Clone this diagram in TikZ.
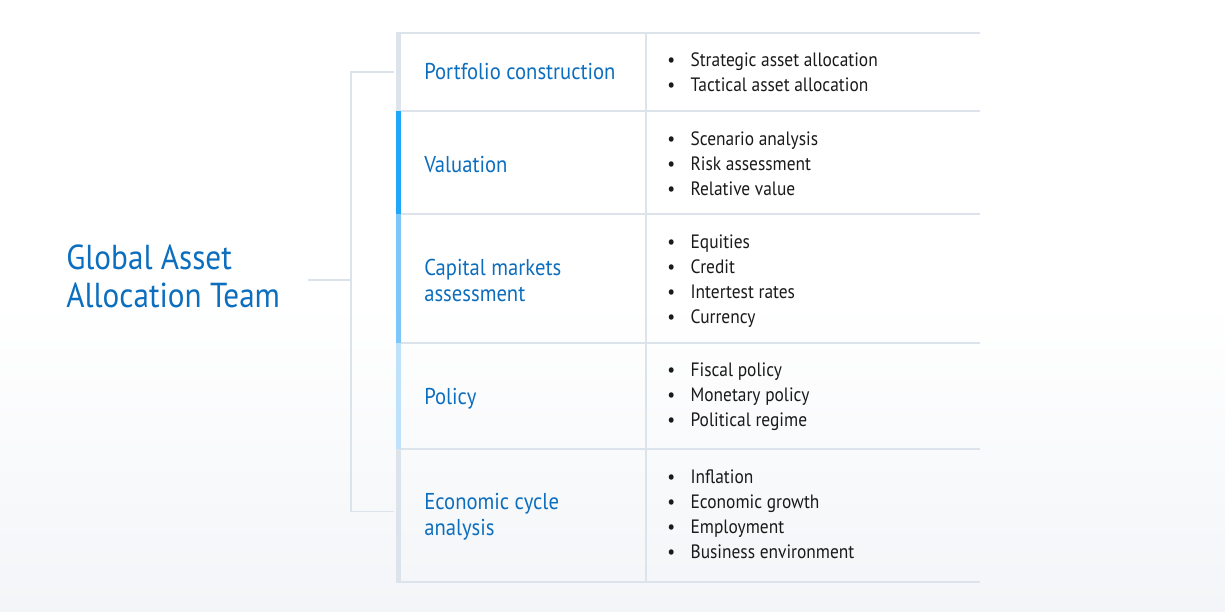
\documentclass[tikz,border=0pt]{standalone}
\usepackage{fontspec}
\setmainfont{PT Sans}[FakeStretch=0.9]
\usetikzlibrary{positioning}
\usetikzlibrary{calc}

\definecolor{teamblue}{HTML}{0C6EBE}
\definecolor{gridgrey}{HTML}{DDE3EA}
\definecolor{barblue}{HTML}{1EA8F7}
\definecolor{barmid}{HTML}{7CC7F8}
\definecolor{barpale}{HTML}{BFE2FC}
\definecolor{bgtint}{HTML}{F3F5F8}
\definecolor{itemtext}{HTML}{1A1A1A}

\newcommand{\itembul}{\makebox[17.5pt][l]{\textbullet}}

\begin{document}
\begin{tikzpicture}[x=0.75pt, y=-0.75pt,
	grid/.style={gridgrey, line width=1.1pt},
	link/.style={gridgrey, line width=1.1pt},
	topic/.style={anchor=west, inner sep=0pt, text=teamblue, align=left, font=\fontsize{17.2}{19.5}\selectfont},
	items/.style={anchor=west, inner sep=0pt, text=itemtext, align=left, font=\fontsize{14.5}{18.75}\selectfont}]

	 % Page and soft background
	 \useasboundingbox (0,0) rectangle (1225,611);
	 \fill[white] (0,0) rectangle (1225,611);
	 \shade[top color=white, bottom color=bgtint] (0,300) rectangle (1225,611);

	 % Table rules
	 \def\tleft{396}
	 \def\tmid{646}
	 \def\tright{980}
	 \foreach \y in {33,111,214,343,449} {
	 	\draw[grid] (\tleft,\y) -- (\tright,\y);
	 }
	 \draw[grid, line width=1.6pt] (\tleft,582) -- (\tright,582);
	 \draw[grid] (\tmid,33) -- (\tmid,582);

	 % Coloured bars on the left edge
	 \foreach \a/\b/\c in {33/111/gridgrey, 111/214/barblue, 214/343/barmid, 343/449/barpale, 449/582/gridgrey} {
	 	\fill[\c] (396,\a) rectangle (401,\b);
	 }

	 % Team name
	 \node[anchor=west, inner sep=0pt, text=teamblue, align=left, font=\fontsize{26}{28.5}\selectfont] (team) at (66,276) {Global Asset\\Allocation Team};

	 % Topics
	 \node[topic] (portfolio) at (424,72) {Portfolio construction};
	 \node[topic] (valuation) at (424,165) {Valuation};
	 \node[topic] (markets) at (424,280) {Capital markets\\assessment};
	 \node[topic] (policy) at (424,399) {Policy};
	 \node[topic] (cycle) at (424,517) {Economic cycle\\analysis};

	 % Items
	 \node[items] (portfolio items) at (667,72) {\itembul Strategic asset allocation\\\itembul Tactical asset allocation};
	 \node[items] (valuation items) at (667,164) {\itembul Scenario analysis\\\itembul Risk assessment\\\itembul Relative value};
	 \node[items] (markets items) at (667,281) {\itembul Equities\\\itembul Credit\\\itembul Intertest rates\\\itembul Currency};
	 \node[items] (policy items) at (667,397) {\itembul Fiscal policy\\\itembul Monetary policy\\\itembul Political regime};
	 \node[items] (cycle items) at (667,514) {\itembul Inflation\\\itembul Economic growth\\\itembul Employment\\\itembul Business environment};

	 % Bracket from the team to the topics
	 \coordinate (stem) at (308,280);
	 \coordinate (fork) at (351,280);
	 \coordinate (edge) at (394,0);
	 \draw[link] (stem) -- (fork);
	 \draw[link] (edge |- portfolio) -| (fork) |- ([yshift=4pt]edge |- cycle);
\end{tikzpicture}
\end{document}
